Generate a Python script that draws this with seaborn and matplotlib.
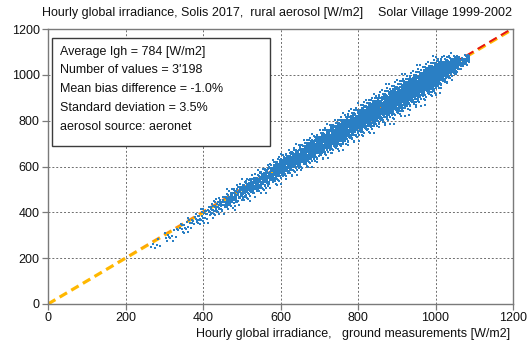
import numpy as np
import pandas as pd
import matplotlib
matplotlib.use("Agg")
import matplotlib.pyplot as plt
import seaborn as sns
from matplotlib.collections import LineCollection
from matplotlib.patches import Rectangle
from matplotlib.transforms import offset_copy
from statistics import NormalDist

# Hourly values grouped by ground-measured irradiance (W/m2):
# bin centre, number of hours, mean Solis-minus-ground offset and scatter
bin_centers = [280, 320, 360, 400, 440, 480, 520, 560, 600, 640, 680,
               720, 760, 800, 840, 880, 920, 960, 1000, 1040, 1068]
bin_counts = [6, 12, 20, 32, 50, 83, 105, 127, 162, 177, 194,
              210, 226, 227, 236, 247, 258, 268, 274, 218, 66]
bin_offset = [-15, -15, -15, -15, -12, -12, -10, -10, -8, -8, -8,
              -7, -6, -5, -5, -5, -5, -4, -2, -4, -12]
bin_spread = [18, 18, 19, 20, 22, 23, 24, 25, 26, 27, 28,
              30, 32, 33, 34, 35, 36, 36, 34, 24, 12]
bin_width = 40

axis_ticks = [0, 200, 400, 600, 800, 1000, 1200]
stats_lines = [
    "Average Igh = 784 [W/m2]",
    "Number of values = 3'198",
    "Mean bias difference = -1.0%",
    "Standard deviation = 3.5%",
    "aerosol source: aeronet",
]
title_left = "Hourly global irradiance, Solis 2017,  rural aerosol [W/m2]"
title_right = "Solar Village 1999-2002"
x_label = "Hourly global irradiance,   ground measurements [W/m2]"


def radical_inverse(i, base):
    """Van der Corput radical inverse of integer i."""
    f, r = 1.0, 0.0
    while i > 0:
        f /= base
        r += f * (i % base)
        i //= base
    return r


# Spread the hours of each bin evenly over the bin (Halton layout)
nd = NormalDist()
ground, solis = [], []
for c, n in zip(bin_centers, bin_counts):
    idx = range(1, n + 1)
    u = np.array([radical_inverse(i, 2) for i in idx])
    v = np.clip([radical_inverse(i, 3) for i in idx], 0.002, 0.998)
    xs = c - bin_width / 2 + u * bin_width
    off = np.interp(xs, bin_centers, bin_offset)
    sd = np.interp(xs, bin_centers, bin_spread)
    ys = xs + off + sd * np.array([nd.inv_cdf(q) for q in v])
    ground.extend(xs)
    solis.extend(ys)
df = pd.DataFrame({"ground": ground, "solis": solis})

sns.set_style("white")
plt.rcParams["font.family"] = ["Liberation Sans", "DejaVu Sans"]

fig = plt.figure(figsize=(5.29, 3.47), dpi=100)
ax = fig.add_axes([48 / 529, 1 - 304 / 347, 465 / 529, 275 / 347])

sns.scatterplot(data=df, x="ground", y="solis", ax=ax, marker="s", s=2.5,
                linewidth=0, color="#2a7fc4", legend=False, zorder=3)

# 1:1 reference line, dashes fading from orange to red
period, dash = 30, 19
starts = np.arange(0, 1200, period)
segs = [[(s, s), (min(s + dash, 1200), min(s + dash, 1200))] for s in starts]
ax.add_collection(LineCollection(segs, colors="#FFB800", linewidths=2.3,
                                 capstyle="butt", zorder=2))
fade = np.clip((starts - 150) / 850, 0, 1)
red_cols = [(0.9, 0.08, 0.08, a) for a in fade]
ax.add_collection(LineCollection(
    segs, colors=red_cols, linewidths=1.4, capstyle="butt", zorder=2.1,
    transform=offset_copy(ax.transData, fig=fig, x=-0.5, y=0.7, units="dots")))

ax.set_xlim(0, 1200)
ax.set_ylim(0, 1200)
ax.set_xticks(axis_ticks)
ax.set_yticks(axis_ticks)
ax.tick_params(axis="both", direction="out", length=4, width=0.9,
               color="#7a7a7a", labelsize=9, labelcolor="#111111", pad=2)
ax.tick_params(axis="both", left=True, bottom=True)
ax.grid(True, color="#6e6e6e", linestyle=(0, (2, 2)), linewidth=0.7)
ax.set_axisbelow(True)
for sp in ax.spines.values():
    sp.set_color("#7a7a7a")
    sp.set_linewidth(1.0)
ax.set_xlabel("")
ax.set_ylabel("")

# Statistics box
ax.add_patch(Rectangle((4 / 465, (304 - 146) / 275), 218 / 465, 108 / 275,
                       transform=ax.transAxes, facecolor="white",
                       edgecolor="#3c3c3c", linewidth=1.0, zorder=4))
for i, line in enumerate(stats_lines):
    py = 51.5 + i * 18.9
    ax.text(12.5 / 465, (304 - py) / 275, line, transform=ax.transAxes,
            ha="left", va="center", fontsize=9, color="#111111", zorder=5)

fig.text(42 / 529, 1 - 13 / 347, title_left, ha="left", va="center",
         fontsize=9, color="#111111")
fig.text(512 / 529, 1 - 13 / 347, title_right, ha="right", va="center",
         fontsize=9, color="#111111")
fig.text(510 / 529, 1 - 334 / 347, x_label, ha="right", va="center",
         fontsize=9, color="#111111")

fig.savefig("out.png", dpi=100)
